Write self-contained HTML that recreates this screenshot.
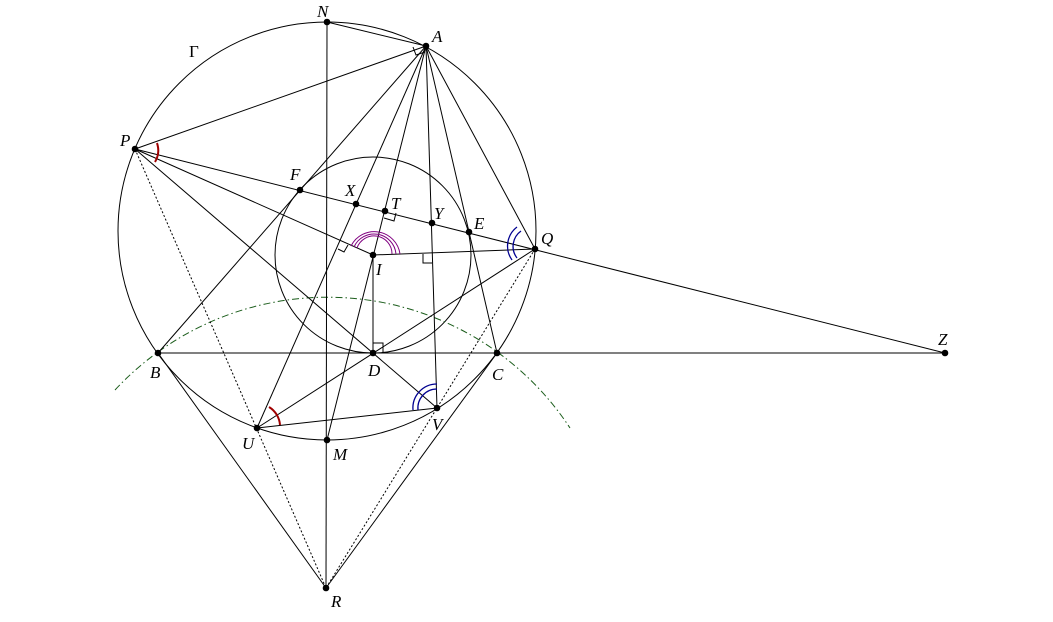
<!DOCTYPE html>
<html><head><meta charset="utf-8"><style>
html,body{margin:0;padding:0;background:#fff}
svg{display:block}
text{font-family:"Liberation Serif",serif;font-style:italic;font-size:17px;fill:#000}
</style></head><body>
<svg width="1053" height="622" viewBox="0 0 1053 622" xmlns="http://www.w3.org/2000/svg">
<g fill="none" stroke="#000" stroke-width="1">
<circle cx="327" cy="231" r="209"/>
<circle cx="373" cy="255" r="98"/>
<path d="M115,390 A290,290 0 0 1 570,428" stroke="#1a5c1a" stroke-dasharray="7,3,1.5,3"/>
<line x1="327" y1="22" x2="326" y2="588"/>
<line x1="327" y1="22" x2="426" y2="46"/>
<line x1="426" y1="46" x2="135" y2="149"/>
<line x1="426" y1="46" x2="158" y2="353"/>
<line x1="426" y1="46" x2="257" y2="428"/>
<line x1="426" y1="46" x2="327" y2="440"/>
<line x1="426" y1="46" x2="437" y2="408"/>
<line x1="426" y1="46" x2="497" y2="353"/>
<line x1="426" y1="46" x2="535" y2="249"/>
<line x1="135" y1="149" x2="945" y2="353"/>
<line x1="135" y1="149" x2="373" y2="255"/>
<line x1="135" y1="149" x2="437" y2="408"/>
<line x1="373" y1="255" x2="535" y2="249"/>
<line x1="535" y1="249" x2="257" y2="428"/>
<line x1="257" y1="428" x2="437" y2="408"/>
<line x1="373" y1="255" x2="373" y2="353"/>
<line x1="158" y1="353" x2="945" y2="353"/>
<line x1="158" y1="353" x2="326" y2="588"/>
<line x1="326" y1="588" x2="497" y2="353"/>
<g stroke-dasharray="2,2">
<line x1="135" y1="149" x2="326" y2="588"/>
<line x1="535" y1="249" x2="326" y2="588"/>
</g>
<!-- right angle marks -->
<path d="M413,47 L416,55 L425,52"/>
<path d="M384,218 L394,221 L396,213"/>
<path d="M338,249 L344,252 L348,245"/>
<path d="M423,254 L423,263 L432,263"/>
<path d="M373,343 L383,343 L383,353"/>
<!-- angle marks -->
<path d="M157,143 A23,23 0 0 1 155,162" stroke="#a00000" stroke-width="2"/>
<path d="M269,407 A23,23 0 0 1 280,425" stroke="#a00000" stroke-width="2"/>
<path d="M517,227 A24,24 0 0 0 512,260" stroke="#000090" stroke-width="1.3"/>
<path d="M521,231 A19,19 0 0 0 517,258" stroke="#000090" stroke-width="1.3"/>
<path d="M413,410 A24,24 0 0 1 437,384" stroke="#000090" stroke-width="1.3"/>
<path d="M418,410 A19,19 0 0 1 437,389" stroke="#000090" stroke-width="1.3"/>
<path d="M351,246 A26,26 0 0 1 400,254" stroke="#800080"/>
<path d="M354,247 A22,22 0 0 1 396,254" stroke="#800080"/>
<path d="M357,248 A18,18 0 0 1 392,254" stroke="#800080"/>
</g>
<g fill="#000">
<circle cx="327" cy="22" r="3.3"/><circle cx="426" cy="46" r="3.3"/><circle cx="135" cy="149" r="3.3"/>
<circle cx="300" cy="190" r="3.3"/><circle cx="356" cy="204" r="3.3"/><circle cx="385" cy="211" r="3.3"/>
<circle cx="432" cy="223" r="3.3"/><circle cx="469" cy="232" r="3.3"/><circle cx="535" cy="249" r="3.3"/>
<circle cx="373" cy="255" r="3.3"/><circle cx="373" cy="353" r="3.3"/><circle cx="158" cy="353" r="3.3"/>
<circle cx="497" cy="353" r="3.3"/><circle cx="945" cy="353" r="3.3"/><circle cx="257" cy="428" r="3.3"/>
<circle cx="327" cy="440" r="3.3"/><circle cx="437" cy="408" r="3.3"/><circle cx="326" cy="588" r="3.3"/>
</g>
<text x="317" y="17">N</text>
<text x="432" y="42">A</text>
<text x="189" y="57" style="font-style:normal">Γ</text>
<text x="120" y="146">P</text>
<text x="290" y="180">F</text>
<text x="345" y="196">X</text>
<text x="391" y="209">T</text>
<text x="434" y="219">Y</text>
<text x="474" y="229">E</text>
<text x="541" y="244">Q</text>
<text x="376" y="275">I</text>
<text x="368" y="376">D</text>
<text x="150" y="378">B</text>
<text x="492" y="380">C</text>
<text x="938" y="345">Z</text>
<text x="242" y="449">U</text>
<text x="333" y="460">M</text>
<text x="432" y="430">V</text>
<text x="331" y="607">R</text>
</svg>
</body></html>
